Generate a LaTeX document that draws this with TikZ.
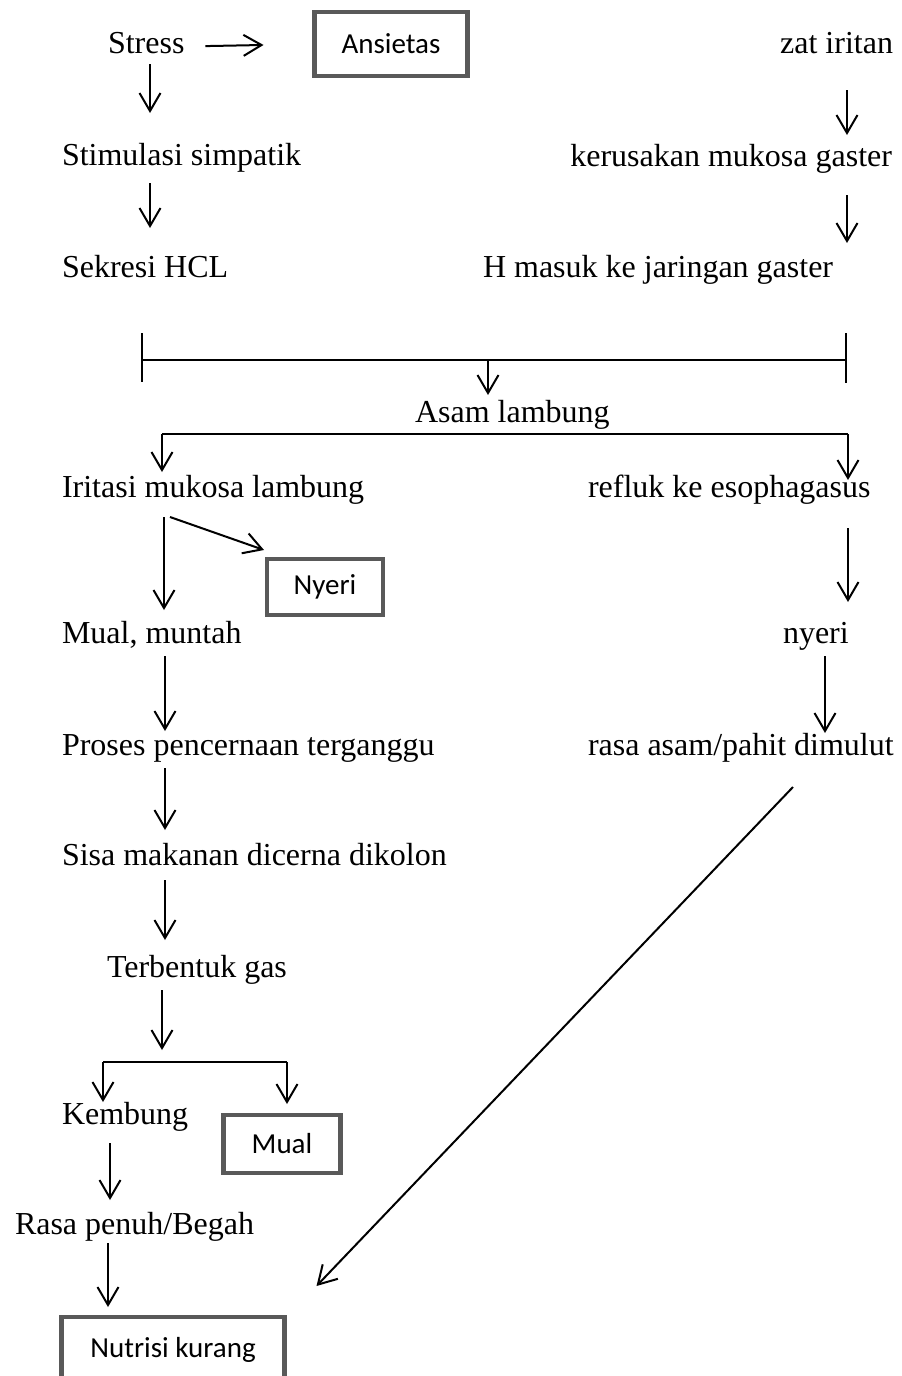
\documentclass[tikz,border=0pt]{standalone}
\usepackage{fontspec}
\setmainfont{Liberation Serif}
\newfontfamily\kotakfont{Carlito}
\usepackage{xcolor}
\usetikzlibrary{arrows.meta}
\definecolor{abu}{HTML}{595959}

\begin{document}
\begin{tikzpicture}[x=0.5pt,y=-0.5pt,
  txt/.style={inner sep=0pt,outer sep=0pt,text height=11pt,text depth=3.5pt,font=\fontsize{16}{19}\selectfont},
  kotak/.style={draw=abu,line width=2.2pt,inner sep=0pt,outer sep=0pt,font=\kotakfont\fontsize{14.5}{17}\selectfont},
  panah/.style={line width=1pt,-{Straight Barb[length=9pt,width=10.5pt]}},
  garis/.style={line width=1pt}]

\useasboundingbox (0,0) rectangle (901,1376);

\node [txt,anchor=base west] (a) at (108,54) {Stress};
\node [kotak,minimum width=76.5pt,minimum height=32pt] (b) at (391,44) {Ansietas};
\node [txt,anchor=base west] (c) at (62,165) {Stimulasi simpatik};
\node [txt,anchor=base west] (d) at (62,277) {Sekresi HCL};
\node [txt,anchor=base east] (e) at (893,54) {zat iritan};
\node [txt,anchor=base east] (f) at (892,166) {kerusakan mukosa gaster};
\node [txt,anchor=base west] (g) at (483,277) {H masuk ke jaringan gaster};
\node [txt,anchor=base west] (h) at (415,422) {Asam lambung};
\node [txt,anchor=base west] (i) at (62,497) {Iritasi mukosa lambung};
\node [txt,anchor=base west] (j) at (588,497) {refluk ke esophagasus};
\node [kotak,minimum width=58pt,minimum height=28pt] (k) at (325,587) {Nyeri};
\node [txt,anchor=base west] (l) at (62,643) {Mual, muntah};
\node [txt,anchor=base west] (n) at (783,643) {nyeri};
\node [txt,anchor=base west] (p) at (62,755) {Proses pencernaan terganggu};
\node [txt,anchor=base west] (o) at (588,755) {rasa asam/pahit dimulut};
\node [txt,anchor=base west] (q) at (62,865) {Sisa makanan dicerna dikolon};
\node [txt,anchor=base west] (r) at (107,977) {Terbentuk gas};
\node [txt,anchor=base west] (u) at (62,1124) {Kembung};
\node [kotak,minimum width=58.5pt,minimum height=29pt] (v) at (282,1144) {Mual};
\node [txt,anchor=base west] (w) at (15,1234) {Rasa penuh/Begah};
\node [kotak,minimum width=111.5pt,minimum height=33pt] (x) at (173,1350) {Nutrisi kurang};

\draw [panah,shorten <=10.5pt,shorten >=25.5pt] (a.east) -- (b.west);
\draw [panah,shorten <=1.5pt,shorten >=15pt] ([xshift=21pt]a.south west) -- ([xshift=44pt]c.north west);
\draw [panah,shorten <=5.5pt,shorten >=13.5pt] ([xshift=44pt]c.south west) -- ([xshift=44pt]d.north west);
\draw [panah,shorten <=14.5pt,shorten >=4.5pt] ([xshift=-23pt]e.south east) -- ([xshift=-22.5pt]f.north east);
\draw [panah,shorten <=11pt,shorten >=6pt] ([xshift=-22.5pt]f.south east) -- ([xshift=-22.5pt]f.south east |- g.north);

\draw [garis] (142,333) -- (142,382) (846,333) -- (846,383) (142,360) -- (846,360);
\coordinate (t) at (488,360);
\draw [panah,shorten >=2.5pt] (t) -- (t |- h.north);

\coordinate (kl) at (162,434);
\coordinate (kr) at (848,434);
\draw [garis] (kl) -- (kr);
\draw [panah,shorten >=1.5pt] (kl) -- (kl |- i.north);
\draw [panah,shorten >=-2.5pt] (kr) -- (kr |- j.north);

\coordinate (m) at (164,517);
\draw [panah,shorten >=5.5pt] (m) -- (m |- l.north);
\draw [panah] ([xshift=3pt]m) -- ([shift={(-1.5pt,4.5pt)}]k.north west);

\draw [panah,shorten <=12pt,shorten >=9.5pt] (kr |- j.south) -- (kr |- n.north);
\draw [panah,shorten <=3pt] ([xshift=21pt]n.south west) -- ([xshift=21pt]n.south west |- o.north);

\draw [panah,shorten <=3pt,shorten >=1pt] ([xshift=51.5pt]l.south west) -- ([xshift=51.5pt]p.north west);
\draw [panah,shorten <=3pt,shorten >=6.5pt] ([xshift=51.5pt]p.south west) -- ([xshift=51.5pt]q.north west);
\draw [panah,shorten <=4pt,shorten >=7.5pt] ([xshift=51.5pt]q.south west) -- ([xshift=29pt]r.north west);

\coordinate (s) at (162,1062);
\coordinate (sl) at (103,1062);
\coordinate (sr) at (287,1062);
\draw [panah,shorten <=3pt,shorten >=6pt] (s |- r.south) -- (s);
\draw [garis] (sl) -- (sr);
\draw [panah] (sl) -- (sl |- u.north);
\draw [panah,shorten >=5.5pt] (sr) -- (sr |- v.north);

\draw [panah,shorten <=6pt,shorten >=6pt] ([xshift=24pt]u.south west) -- ([xshift=47.5pt]w.north west);
\draw [panah,shorten <=1pt,shorten >=5pt] ([xshift=46.5pt]w.south west) -- ([xshift=46.5pt]w.south west |- x.north);
\draw [panah] ([shift={(102.5pt,-12.5pt)}]o.south west) -- ([shift={(16pt,15.5pt)}]x.north east);

\end{tikzpicture}
\end{document}
